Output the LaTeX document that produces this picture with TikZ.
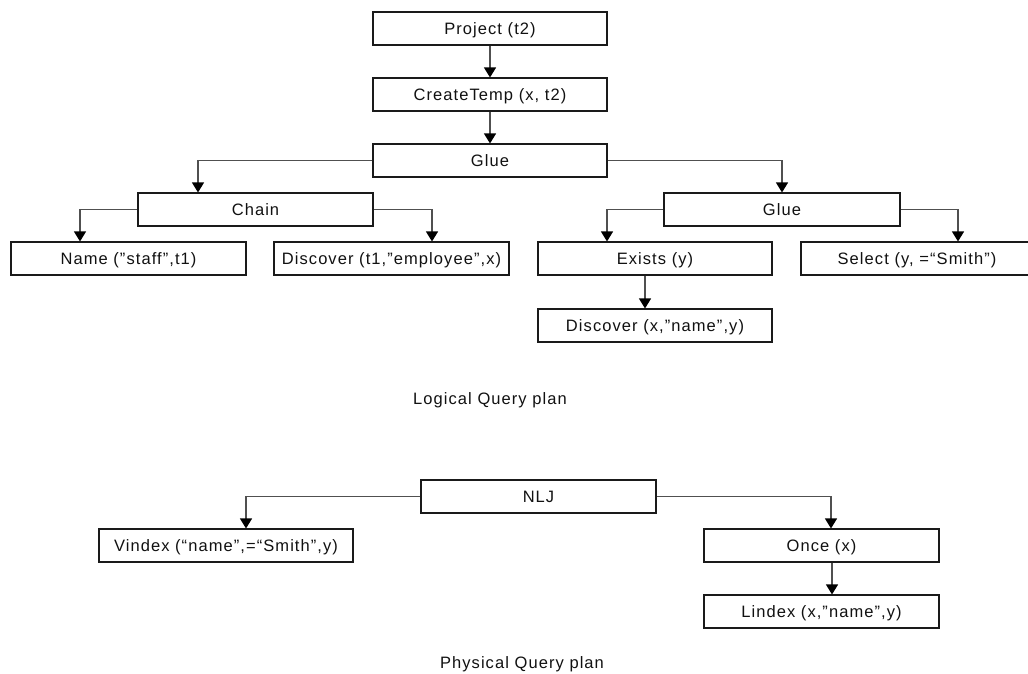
\documentclass[tikz,border=0pt]{standalone}
\usepackage{fontspec}
\setmainfont{Liberation Sans}
\newfontfamily\labfont[LetterSpace=6.5]{Liberation Sans}
\usetikzlibrary{arrows.meta}
\definecolor{boxc}{HTML}{1A1A1A}
\definecolor{linec}{HTML}{505050}
\definecolor{txt}{HTML}{111111}
\begin{document}
\begin{tikzpicture}[x=1pt,y=-1pt,
  box/.style={draw=boxc, line width=1.1pt, minimum height=33pt, inner sep=0pt,
    text height=11.8pt, text depth=0pt, text=txt, fill=white,
    font=\labfont\fontsize{16.5}{18}\selectfont},
  lbl/.style={inner sep=0pt, text height=11.8pt, text depth=0pt, text=txt,
    font=\labfont\fontsize{16.5}{18}\selectfont},
  conn/.style={draw=linec, line width=1.1pt,
    -{Triangle[width=12pt,length=10pt,color=black]}}]
\useasboundingbox (0,0) rectangle (1028,673);

\node[box, minimum width=234pt] (proj) at (490,28.5) {Project (t2)};
\node[box, minimum width=234pt] (ctemp) at (490,94.5) {CreateTemp (x, t2)};
\node[box, minimum width=234pt] (glue1) at (490,160.5) {Glue};
\node[box, minimum width=235pt] (chain) at (255.5,209.5) {Chain};
\node[box, minimum width=235pt] (name) at (128.5,258.5) {Name (”staff”,t1)};
\node[box, minimum width=235pt] (disc1) at (391.5,258.5) {Discover (t1,”employee”,x)};
\node[box, minimum width=236pt] (glue2) at (782,209.5) {Glue};
\node[box, minimum width=234pt] (exists) at (655,258.5) {Exists (y)};
\node[box, minimum width=232pt] (select) at (917,258.5) {Select (y, =“Smith”)};
\node[box, minimum width=234pt] (disc2) at (655,325.5) {Discover (x,”name”,y)};
\node[lbl] (logical) at (490,399) {Logical Query plan};

\node[box, minimum width=235pt] (nlj) at (538.5,496.5) {NLJ};
\node[box, minimum width=254pt] (vindex) at (226,545.5) {Vindex (“name”,=“Smith”,y)};
\node[box, minimum width=235pt] (once) at (821.5,545.5) {Once (x)};
\node[box, minimum width=235pt] (lindex) at (821.5,611.5) {Lindex (x,”name”,y)};
\node[lbl] (physical) at (522,663) {Physical Query plan};

\draw[conn] (proj) -- (ctemp);
\draw[conn] (ctemp) -- (glue1);
\draw[conn] (glue1.west) -| ([xshift=-57.5pt]chain.north);
\draw[conn] (glue1.east) -| (glue2.north);
\draw[conn] (chain.west) -| ([xshift=-48.5pt]name.north);
\draw[conn] (chain.east) -| ([xshift=40.5pt]disc1.north);
\draw[conn] (glue2.west) -| ([xshift=-48pt]exists.north);
\draw[conn] (glue2.east) -| ([xshift=41pt]select.north);
\draw[conn] ([xshift=-10pt]exists.south) -- ([xshift=-10pt]disc2.north);
\draw[conn] (nlj.west) -| ([xshift=20pt]vindex.north);
\draw[conn] (nlj.east) -| ([xshift=9.5pt]once.north);
\draw[conn] ([xshift=10.5pt]once.south) -- ([xshift=10.5pt]lindex.north);
\end{tikzpicture}
\end{document}
